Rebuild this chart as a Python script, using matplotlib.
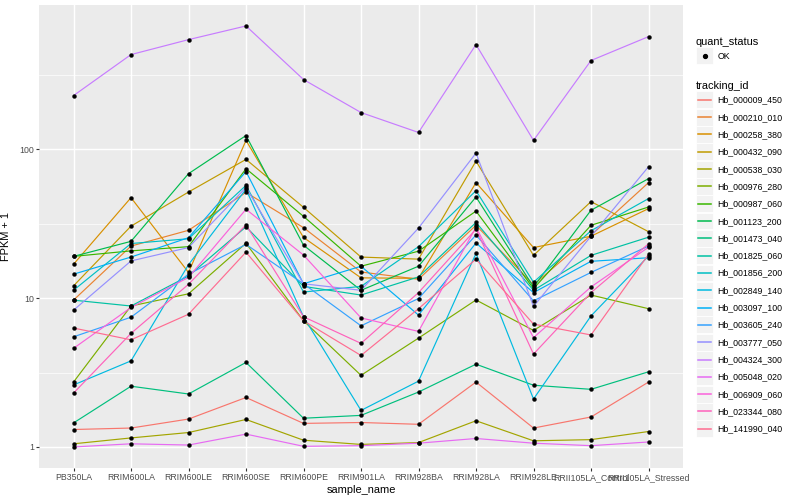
import matplotlib
matplotlib.use("Agg")
import matplotlib.pyplot as plt
from matplotlib.lines import Line2D
from matplotlib.patches import Rectangle
from matplotlib.legend_handler import HandlerBase
from matplotlib.ticker import FixedLocator, NullFormatter

plt.rcParams['font.family'] = ['Liberation Sans', 'DejaVu Sans']

samples = ["PB350LA", "RRIM600LA", "RRIM600LE", "RRIM600SE", "RRIM600PE",
           "RRIM901LA", "RRIM928BA", "RRIM928LA", "RRIM928LE",
           "RRII105LA_Control", "RRII105LA_Stressed"]

tracking_ids = ["Hb_000009_450", "Hb_000210_010", "Hb_000258_380", "Hb_000432_090",
                "Hb_000538_030", "Hb_000976_280", "Hb_000987_060", "Hb_001123_200",
                "Hb_001473_040", "Hb_001825_060", "Hb_001856_200", "Hb_002849_140",
                "Hb_003097_100", "Hb_003605_240", "Hb_003777_050", "Hb_004324_300",
                "Hb_005048_020", "Hb_006909_060", "Hb_023344_080", "Hb_141990_040"]

# FPKM + 1 values, one list per tracking_id (same order as samples)
hb_000009_450 = [1.31, 1.34, 1.54, 2.15, 1.44, 1.46, 1.42, 2.73, 1.34, 1.59, 2.73]
hb_000210_010 = [9.7, 22.4, 28.6, 51.4, 29.8, 15.0, 13.4, 30.9, 12.3, 26.5, 59.8]
hb_000258_380 = [16.9, 47.4, 14.9, 115, 25.6, 13.7, 13.6, 59.8, 21.9, 26.1, 40.0]
hb_000432_090 = [12.1, 30.5, 51.7, 85.7, 40.8, 18.9, 18.3, 83.4, 19.4, 44.6, 28.0]
hb_000538_030 = [1.05, 1.15, 1.25, 1.53, 1.11, 1.04, 1.07, 1.50, 1.10, 1.12, 1.27]
hb_000976_280 = [2.73, 8.86, 10.7, 23.4, 7.05, 3.03, 5.39, 9.73, 6.07, 10.5, 8.5]
hb_000987_060 = [19.1, 20.8, 22.2, 74.2, 35.5, 16.4, 20.7, 38.5, 11.6, 30.9, 41.0]
hb_001123_200 = [19.1, 24.1, 68.7, 124, 22.7, 11.3, 16.4, 47.9, 11.9, 39.0, 63.6]
hb_001473_040 = [1.45, 2.56, 2.27, 3.70, 1.56, 1.63, 2.34, 3.60, 2.60, 2.44, 3.20]
hb_001825_060 = [9.7, 8.86, 14.1, 30.2, 12.0, 10.5, 13.9, 32.3, 11.3, 19.4, 25.7]
hb_001856_200 = [11.3, 23.3, 25.1, 57.3, 11.0, 12.0, 22.2, 52.8, 12.8, 28.4, 46.7]
hb_002849_140 = [2.61, 3.79, 16.8, 54.0, 7.5, 1.76, 2.77, 20.0, 2.10, 7.6, 19.2]
hb_003097_100 = [14.5, 18.9, 25.5, 71.0, 12.5, 16.4, 7.7, 23.5, 10.9, 17.7, 18.7]
hb_003605_240 = [5.5, 7.45, 14.5, 23.0, 12.5, 6.52, 9.95, 26.6, 9.6, 14.9, 22.4]
hb_003777_050 = [8.3, 17.8, 21.9, 55.5, 12.5, 11.3, 29.6, 94.5, 8.8, 26.1, 76.5]
hb_004324_300 = [230, 434, 547, 676, 295, 177, 130, 507, 115, 396, 573]
hb_005048_020 = [1.0, 1.05, 1.03, 1.22, 1.01, 1.02, 1.06, 1.14, 1.06, 1.02, 1.08]
hb_006909_060 = [4.6, 8.66, 13.8, 39.6, 19.5, 7.37, 5.98, 30.0, 5.43, 11.9, 22.0]
hb_023344_080 = [2.30, 5.8, 12.4, 31.1, 7.5, 4.97, 10.9, 29.1, 4.21, 10.9, 23.2]
hb_141990_040 = [6.3, 5.25, 7.8, 20.4, 7.05, 4.12, 8.5, 18.3, 6.7, 5.66, 19.7]

series = [hb_000009_450, hb_000210_010, hb_000258_380, hb_000432_090, hb_000538_030,
          hb_000976_280, hb_000987_060, hb_001123_200, hb_001473_040, hb_001825_060,
          hb_001856_200, hb_002849_140, hb_003097_100, hb_003605_240, hb_003777_050,
          hb_004324_300, hb_005048_020, hb_006909_060, hb_023344_080, hb_141990_040]

colors = ["#F8766D", "#EA8331", "#D89000", "#C09B00", "#A3A500", "#7CAE00", "#39B600",
          "#00BB4E", "#00BF7D", "#00C1A3", "#00BFC4", "#00BAE0", "#00B0F6", "#35A2FF",
          "#9590FF", "#C77CFF", "#E76BF3", "#FA62DB", "#FF62BC", "#FF6C91"]

y_major = [1, 10, 100]
y_major_labels = ["1", "10", "100"]
y_minor = [10 ** -0.5, 10 ** 0.5, 10 ** 1.5, 10 ** 2.5]

fig = plt.figure(figsize=(8, 5), dpi=100)
ax = fig.add_axes([39 / 800, 32 / 500, (683 - 39) / 800, (495 - 32) / 500])
ax.set_facecolor("#EBEBEB")
for s in ax.spines.values():
    s.set_visible(False)

xs = list(range(len(samples)))
handles = []
for vals, col, tid in zip(series, colors, tracking_ids):
    ax.plot(xs, vals, color=col, lw=0.85, zorder=2, solid_capstyle='butt')
    handles.append(Line2D([], [], color=col, lw=1.1))
for vals in series:
    ax.plot(xs, vals, ls='none', marker='o', ms=2.8, color='black', mec='black', mew=0.3, zorder=3)

ax.set_yscale('log')
ax.set_ylim(0.722, 935)
ax.set_xlim(-0.6, len(samples) - 1 + 0.6)
ax.yaxis.set_major_locator(FixedLocator(y_major))
ax.set_yticklabels(y_major_labels)
ax.yaxis.set_minor_locator(FixedLocator(y_minor))
ax.yaxis.set_minor_formatter(NullFormatter())
ax.set_xticks(xs)
ax.set_xticklabels(samples)

ax.grid(True, which='major', color='white', lw=1.05, zorder=0)
ax.grid(True, which='minor', axis='y', color='white', lw=0.5, zorder=0)
ax.set_axisbelow(True)
ax.tick_params(which='major', length=2.0, width=0.8, color='#333333',
               labelsize=6.3, labelcolor='#4D4D4D', pad=1.5)
ax.tick_params(which='minor', length=0)

ax.set_xlabel("sample_name", fontsize=7.9, labelpad=2)
ax.set_ylabel("FPKM + 1", fontsize=7.9, labelpad=6)


class HandlerKey(HandlerBase):
    def create_artists(self, legend, orig, xd, yd, w, h, fs, trans):
        x0, y0 = -xd, -yd
        arts = [Rectangle((x0, y0), w, h, facecolor='#F2F2F2', edgecolor='white',
                          lw=0.6, transform=trans)]
        yc = y0 + h / 2
        if orig.get_linestyle() not in ('None', 'none', ''):
            arts.append(Line2D([x0 + 0.1 * w, x0 + 0.9 * w], [yc, yc], color=orig.get_color(),
                               lw=orig.get_linewidth(), transform=trans))
        if orig.get_marker() not in ('None', None, '', 'none'):
            arts.append(Line2D([x0 + w / 2], [yc], marker=orig.get_marker(), ls='none',
                               ms=orig.get_markersize(), color='black', transform=trans))
        return arts


common = dict(loc='upper left', bbox_transform=fig.transFigure, frameon=False,
              fontsize=6.3, title_fontsize=7.9, alignment='left', borderpad=0,
              borderaxespad=0, handlelength=1.95, handleheight=2.59, labelspacing=0.05,
              handletextpad=0.5, handler_map={Line2D: HandlerKey()})

qhandle = Line2D([], [], ls='none', marker='o', ms=2.8, color='black')
leg1 = fig.legend([qhandle], ["OK"], bbox_to_anchor=(696 / 800, 1 - 37 / 500),
                  title="quant_status", **common)
leg2 = fig.legend(handles, tracking_ids, bbox_to_anchor=(696 / 800, 1 - 81 / 500),
                  title="tracking_id", **common)

fig.savefig("out.png", dpi=100)
